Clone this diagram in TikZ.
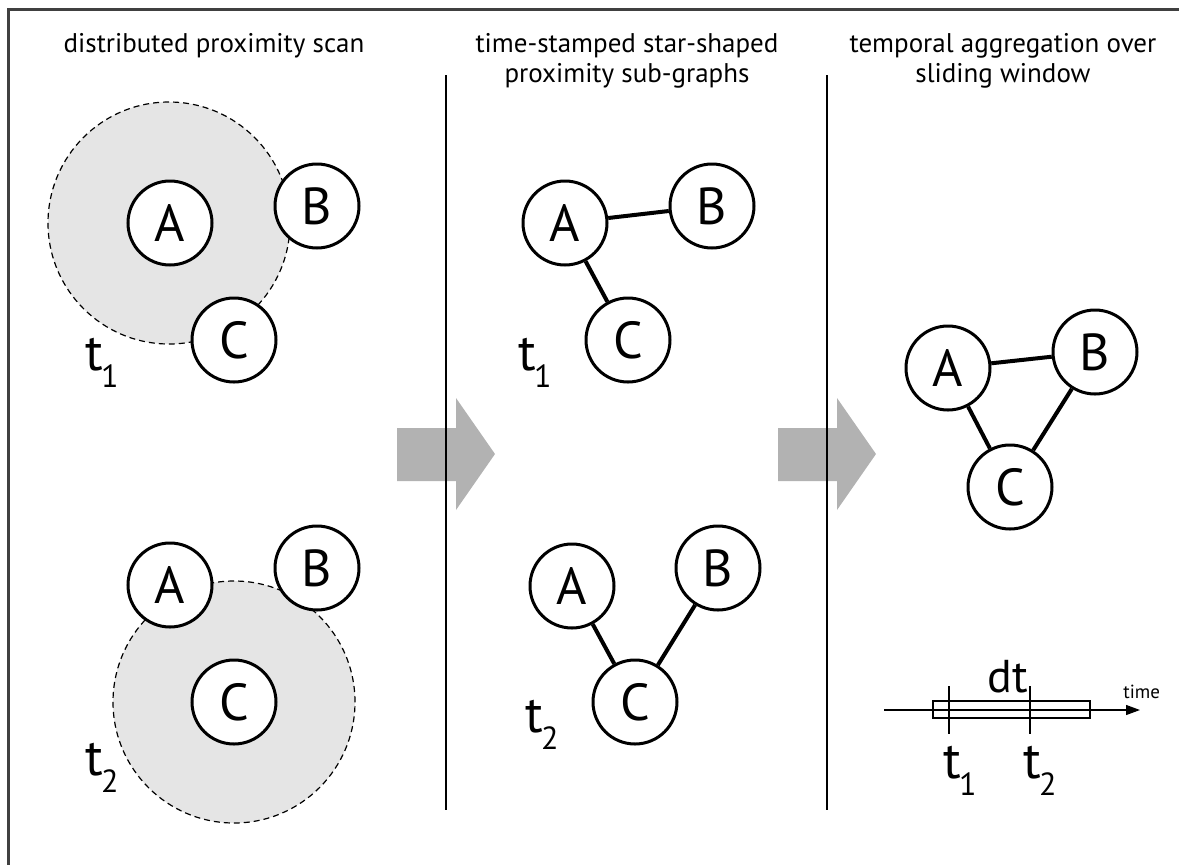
\documentclass[tikz,border=0pt]{standalone}
\usepackage{fontspec}
\setmainfont{PT Sans}
\usetikzlibrary{arrows.meta,positioning}

\newcommand{\tlab}[1]{t\kern-1pt\raisebox{-8.5pt}{\fontsize{16}{16}\selectfont #1}}

\begin{document}
\begin{tikzpicture}[x=0.5pt,y=-0.5pt,
            station/.style={draw,circle,line width=1.5pt,fill=white,minimum size=42pt,inner sep=0pt,font=\fontsize{26}{26}\selectfont},
            scanarea/.style={draw,circle,dashed,dash pattern=on 3pt off 2pt,line width=0.6pt,fill=black!10,minimum size=121pt},
            contact/.style={line width=2pt},
            stamp/.style={anchor=base west,inner sep=0pt,font=\fontsize{26}{26}\selectfont},
            header/.style={align=center,font=\fontsize{13.5}{15}\selectfont},
            divider/.style={line width=0.8pt},
            stagearrow/.style={fill=black!30,draw=none}
  ]

  \useasboundingbox (0,0) rectangle (1179,864);
  \draw[line width=1.5pt,black!75] (8,870) -- (8,9) -- (1190,9);

  % headers
  \node[header] (h1) at (214,46) {distributed proximity scan};
  \node[header] (h2) at (627,61) {time-stamped star-shaped\\proximity sub-graphs};
  \node[header] (h3) at (1003,61) {temporal aggregation over\\sliding window};

  % big arrows
  \foreach \x in {397,778}
    \fill[stagearrow] (\x,428) -- ++(59,0) -- ++(0,-30) -- ++(39,56) -- ++(-39,56) -- ++(0,-29) -- ++(-59,0) -- cycle;

  \draw[divider] (446,75) -- (446,810);
  \draw[divider] (827,75) -- (827,810);

  % proximity scan at t1
  \node[scanarea] (scan1) at (169,223) {};
  \node[station] (A1) at (170,223) {A};
  \node[station] (B1) at (317,206) {B};
  \node[station] (C1) at (234,340) {C};
  \node[stamp] (t1a) at (85,370) {\tlab{1}};

  % proximity scan at t2
  \node[scanarea] (scan2) at (234,702) {};
  \node[station] (A2) at (170,585) {A};
  \node[station] (B2) at (317,568) {B};
  \node[station] (C2) at (234,702) {C};
  \node[stamp] (t2a) at (85,775) {\tlab{2}};

  % star sub-graph t1
  \node[station] (A3) at (565,223) {A};
  \node[station] (B3) at (712,206) {B};
  \node[station] (C3) at (628,340) {C};
  \node[stamp] (t1b) at (518,370) {\tlab{1}};
  \draw[contact] (A3) -- (B3);
  \draw[contact] (A3) -- (C3);

  % star sub-graph t2
  \node[station] (A4) at (572,586) {A};
  \node[station] (B4) at (718,568) {B};
  \node[station] (C4) at (635,702) {C};
  \node[stamp] (t2b) at (525,732) {\tlab{2}};
  \draw[contact] (C4) -- (A4);
  \draw[contact] (C4) -- (B4);

  % aggregated graph
  \node[station] (A5) at (948,368) {A};
  \node[station] (B5) at (1095,352) {B};
  \node[station] (C5) at (1010,487) {C};
  \draw[contact] (A5) -- (B5);
  \draw[contact] (A5) -- (C5);
  \draw[contact] (B5) -- (C5);

  % time axis with window
  \coordinate (tstart) at (884,710);
  \coordinate (tend) at (1140,710);
  \draw[line width=0.6pt,-{Triangle[length=7pt,width=5pt]}] (tstart) -- (tend);
  \draw[line width=1pt] (933,701) rectangle (1090,718);
  \draw[line width=0.6pt] (949,686) -- (949,734);
  \draw[line width=0.6pt] (1030,686) -- (1030,734);
  \node[stamp,font=\fontsize{23}{23}\selectfont] (dt) at (987,692) {dt};
  \node[stamp,font=\fontsize{9.5}{9.5}\selectfont] (time) at (1123,698) {time};
  \node[stamp] (t1c) at (943,778) {\tlab{1}};
  \node[stamp] (t2c) at (1023,778) {\tlab{2}};

\end{tikzpicture}
\end{document}
